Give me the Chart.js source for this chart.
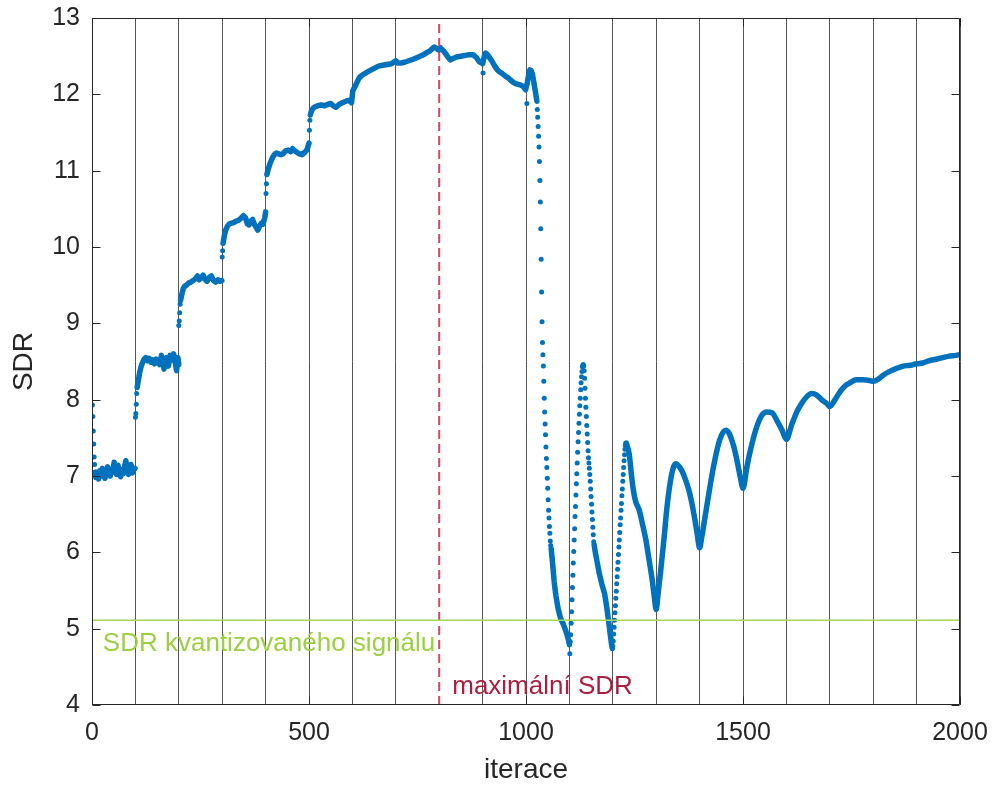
<!DOCTYPE html>
<html>
<head>
<meta charset="utf-8">
<title>SDR vs iterace</title>
<script src="https://cdn.jsdelivr.net/npm/chart.js@4.4.1/dist/chart.umd.min.js"></script>
<style>
  body { margin: 0; background: #fff; }
  canvas { display: block; }
</style>
</head>
<body>
<canvas id="chart" width="992" height="785"></canvas>
<script>
// SDR level of the quantized signal and the iteration with the best SDR
const sdrQuant = 5.11;
const bestIter = 800;

// dense runs
const run1Iter = [7,9,12,15,18,21,24,27,30,33,36,39,42,45,48,51,54,57,60,63,66,69,72,75,78,81,84,87,90,93,96,99];
const run1Sdr = [7.05,6.98,7.05,6.96,7.07,7.0,7.1,7.02,6.97,7.06,7.12,7.03,7.0,7.09,7.05,7.18,7.08,7.02,7.14,7.05,6.99,7.08,7.03,7.12,7.2,7.09,7.02,7.07,7.15,7.04,7.08,7.1];

const run2Iter = [104,107,110,113,116,120,124,128,132,136,140,144,148,152,156,160,163,166,169,172,176,180,184,188,192,195,198,200];
const run2Sdr = [8.16,8.26,8.36,8.43,8.48,8.53,8.55,8.51,8.54,8.49,8.52,8.47,8.53,8.50,8.46,8.58,8.49,8.40,8.50,8.55,8.44,8.58,8.52,8.60,8.48,8.38,8.55,8.46];

const run3Iter = [204,207,210,214,218,223,228,233,238,243,247,252,256,260,265,270,275,280,285,290,295,299];
const run3Sdr = [9.30,9.38,9.45,9.49,9.50,9.53,9.54,9.56,9.58,9.62,9.57,9.60,9.63,9.58,9.55,9.60,9.62,9.56,9.54,9.57,9.55,9.56];

const run4Iter = [302,305,308,312,316,320,326,332,338,344,349,354,358,362,366,370,374,378,382,386,390,394,398,400];
const run4Sdr = [10.05,10.15,10.22,10.27,10.30,10.31,10.32,10.34,10.35,10.38,10.41,10.38,10.30,10.29,10.34,10.36,10.30,10.26,10.22,10.27,10.31,10.30,10.38,10.46];

const run5Iter = [403,406,410,415,420,425,430,435,440,446,452,458,462,467,472,478,484,490,495,500];
const run5Sdr = [10.95,11.02,11.09,11.16,11.21,11.23,11.22,11.21,11.22,11.26,11.27,11.25,11.29,11.26,11.24,11.22,11.21,11.24,11.27,11.36];

const run6Iter = [503,506,510,515,520,528,536,544,550,556,562,570,577,585,592,598,601,605,610,615,622,631,640,650,660,670,680,690,700,705,712,720,730,740,748,756,764,772,779,784,789,794,799,803,808,814,820,826,832,840,850,860,870,878,886,892,898,900,904,907,911,916,922,928,934,940,946,952,958,964,970,976,982,988,994,999,1003,1006,1009,1012,1015,1018,1021,1025];
const run6Sdr = [11.73,11.79,11.82,11.84,11.85,11.86,11.85,11.87,11.88,11.85,11.83,11.87,11.89,11.91,11.92,11.89,12.05,12.09,12.15,12.21,12.25,12.28,12.31,12.34,12.37,12.38,12.39,12.40,12.44,12.41,12.41,12.42,12.44,12.46,12.48,12.50,12.52,12.55,12.57,12.60,12.62,12.60,12.58,12.61,12.58,12.54,12.49,12.45,12.47,12.49,12.50,12.51,12.52,12.52,12.48,12.43,12.41,12.40,12.50,12.54,12.52,12.48,12.43,12.37,12.32,12.29,12.27,12.24,12.22,12.19,12.16,12.14,12.13,12.12,12.10,12.06,12.15,12.25,12.32,12.31,12.26,12.16,12.06,11.91];

const run7Iter = [1058,1061,1065,1069,1074,1080,1085,1090,1095,1098,1100];
const run7Sdr = [6.05,5.87,5.61,5.43,5.26,5.13,5.07,5.00,4.91,4.85,4.79];

const run8Iter = [1157,1160,1165,1169,1175,1181,1185,1188,1191,1194,1197,1199];
const run8Sdr = [6.10,5.99,5.84,5.72,5.58,5.46,5.32,5.20,5.07,4.93,4.80,4.74];

const run9Iter = [1231,1234,1238,1243,1248,1253,1261,1268,1276,1283,1291,1296,1300,1304,1310,1318,1325,1333,1340,1346,1352,1360,1367,1375,1382,1390,1395,1400,1405,1413,1421,1432,1444,1455,1461,1467,1473,1480,1487,1494,1500,1509,1521,1532,1544,1555,1567,1578,1590,1600,1612,1624,1635,1647,1658,1670,1681,1693,1700,1712,1723,1735,1746,1761,1777,1792,1800,1812,1823,1838,1854,1869,1885,1900,1914,1929,1945,1960,1975,1991,2000];
const run9Sdr = [7.43,7.38,7.28,7.01,6.79,6.66,6.55,6.38,6.17,5.92,5.63,5.40,5.25,5.44,5.74,6.18,6.60,6.94,7.12,7.16,7.13,7.06,6.96,6.82,6.65,6.40,6.22,6.06,6.20,6.48,6.76,7.12,7.43,7.58,7.60,7.57,7.49,7.36,7.18,6.98,6.84,7.12,7.43,7.65,7.80,7.84,7.83,7.73,7.60,7.48,7.67,7.84,7.95,8.04,8.08,8.06,8.00,7.95,7.91,8.00,8.10,8.18,8.22,8.26,8.26,8.25,8.24,8.27,8.32,8.37,8.41,8.44,8.45,8.47,8.48,8.51,8.53,8.55,8.57,8.58,8.59];

// single iterations that stand apart (jumps, outliers)
const jumpIter = [1,2,3,4,5,6,100,101,102,103,200,201,202,203,300,301,401,402,501,502,901,1002,1101];
const jumpSdr = [7.93,7.78,7.59,7.42,7.25,7.15,7.77,7.82,7.94,8.08,8.97,9.03,9.14,9.25,9.87,9.95,10.70,10.83,11.53,11.66,12.28,11.88,4.67];

// the collapse after ~1025 iterations
const dropIter = [1026,1027,1028,1029,1030,1031,1032,1033,1034,1035,1036,1037,1038,1039,1040,1041,1042,1043,1044,1045,1046,1047,1048,1049,1050,1051,1052,1053,1054,1055,1056,1057];
const dropSdr = [11.80,11.70,11.58,11.45,11.31,11.12,10.87,10.59,10.24,9.84,9.41,9.02,8.75,8.59,8.44,8.24,8.02,7.84,7.68,7.54,7.38,7.23,7.11,6.97,6.84,6.69,6.55,6.45,6.34,6.25,6.15,6.09];

// first spike
const spike1Iter = [1102,1103,1104,1105,1106,1107,1108,1109,1110,1111,1112,1113,1114,1115,1116,1117,1118,1119,1120,1121,1122,1123,1124,1125,1126,1127,1128,1129,1130,1131,1132,1133,1134,1135,1136,1137,1138,1139,1140,1141,1142,1143,1144,1145,1146,1147,1148,1149,1150,1151,1152,1153,1154,1155,1156];
const spike1Sdr = [4.83,4.92,5.07,5.22,5.38,5.54,5.70,5.86,6.01,6.16,6.31,6.47,6.60,6.75,6.90,7.03,7.17,7.31,7.45,7.57,7.69,7.81,7.92,8.02,8.13,8.22,8.30,8.37,8.43,8.45,8.46,8.44,8.38,8.28,8.15,8.02,7.90,7.78,7.66,7.55,7.44,7.33,7.24,7.17,7.10,7.02,6.93,6.83,6.73,6.63,6.53,6.43,6.33,6.23,6.14];

// second spike, rising part
const spike2Iter = [1200,1201,1202,1203,1204,1205,1206,1207,1208,1209,1210,1211,1212,1213,1214,1215,1216,1217,1218,1219,1220,1221,1222,1223,1224,1225,1226,1227,1228,1229,1230];
const spike2Sdr = [4.77,4.84,4.93,5.02,5.11,5.21,5.30,5.40,5.49,5.59,5.68,5.78,5.87,5.97,6.07,6.16,6.26,6.36,6.45,6.55,6.64,6.74,6.83,6.93,7.02,7.11,7.20,7.28,7.35,7.40,7.43];

const xTicks = [0, 500, 1000, 1500, 2000];
const yTicks = [4, 5, 6, 7, 8, 9, 10, 11, 12, 13];

const quantLabel = 'SDR kvantizovaného signálu';
const bestLabel = 'maximální SDR';

const BLUE = '#0072BD';
const GREEN = '#9ccf42';
const RED = '#ad1d3d';
const AXIS = '#262626';
const FONT = '"Liberation Sans", Arial, Helvetica, sans-serif';

function pts(xs, ys) {
  return xs.map((x, i) => ({ x, y: ys[i] }));
}

// dense runs joined into one line, with gaps between the runs
const gap = { x: null, y: null };
const denseRuns = [
  [run1Iter, run1Sdr], [run2Iter, run2Sdr], [run3Iter, run3Sdr],
  [run4Iter, run4Sdr], [run5Iter, run5Sdr], [run6Iter, run6Sdr],
  [run7Iter, run7Sdr], [run8Iter, run8Sdr]
];
let densePoints = [];
denseRuns.forEach(r => { densePoints = densePoints.concat(pts(r[0], r[1]), [gap]); });

const sparsePoints = [].concat(
  pts(jumpIter, jumpSdr), pts(dropIter, dropSdr),
  pts(spike1Iter, spike1Sdr), pts(spike2Iter, spike2Sdr)
);

// box, inward ticks and the two notes
const frame = {
  id: 'frame',
  afterDatasetsDraw(chart) {
    const { ctx, chartArea: a, scales: { x, y } } = chart;
    ctx.save();
    ctx.strokeStyle = AXIS;
    ctx.lineWidth = 1;
    const L = Math.round(a.left) + 0.5, R = Math.round(a.right) - 0.5;
    const T = Math.round(a.top) + 0.5, B = Math.round(a.bottom) - 0.5;
    ctx.beginPath();
    ctx.rect(L, T, R - L, B - T);
    yTicks.forEach(v => {
      const p = Math.round(y.getPixelForValue(v)) + 0.5;
      ctx.moveTo(L, p); ctx.lineTo(L + 8, p);
      ctx.moveTo(R, p); ctx.lineTo(R - 8, p);
    });
    xTicks.forEach(v => {
      const p = Math.round(x.getPixelForValue(v)) + 0.5;
      ctx.moveTo(p, B); ctx.lineTo(p, B - 8);
      ctx.moveTo(p, T); ctx.lineTo(p, T + 8);
    });
    ctx.stroke();

    ctx.font = '26px ' + FONT;
    ctx.textBaseline = 'alphabetic';
    ctx.textAlign = 'left';
    ctx.fillStyle = GREEN;
    ctx.fillText(quantLabel, x.getPixelForValue(25), y.getPixelForValue(4.71));
    ctx.fillStyle = RED;
    ctx.fillText(bestLabel, x.getPixelForValue(830), y.getPixelForValue(4.14));
    ctx.restore();
  }
};

new Chart(document.getElementById('chart'), {
  type: 'scatter',
  data: {
    datasets: [
      {
        data: [{ x: 0, y: sdrQuant }, { x: 2000, y: sdrQuant }],
        showLine: true, borderColor: '#a6d653', borderWidth: 1.5,
        pointRadius: 0, order: 0
      },
      {
        data: [{ x: bestIter, y: 4 }, { x: bestIter, y: 13 }],
        showLine: true, borderColor: 'rgba(200,55,85,0.9)', borderWidth: 2,
        borderDash: [9, 5], pointRadius: 0, order: 0
      },
      {
        data: densePoints,
        showLine: true, spanGaps: false, borderColor: BLUE, borderWidth: 5.5,
        borderJoinStyle: 'round', borderCapStyle: 'round',
        pointRadius: 0, order: 1
      },
      {
        data: pts(run9Iter, run9Sdr),
        showLine: true, borderColor: BLUE, borderWidth: 5.5,
        borderJoinStyle: 'round', borderCapStyle: 'round',
        cubicInterpolationMode: 'monotone',
        pointRadius: 0, order: 1
      },
      {
        data: sparsePoints,
        showLine: false, backgroundColor: BLUE, borderWidth: 0,
        pointRadius: 2.5, order: 1
      }
    ]
  },
  options: {
    responsive: false,
    devicePixelRatio: 1,
    animation: false,
    events: [],
    layout: { padding: { top: 18, right: 32, left: 0, bottom: 0 } },
    plugins: { legend: { display: false }, tooltip: { enabled: false } },
    scales: {
      x: {
        type: 'linear', min: 0, max: 2000,
        afterFit: s => { s.height = 80; s.paddingLeft = 0; s.paddingRight = 0; },
        grid: {
          color: c => (c.tick && c.tick.value === bestIter ? 'rgba(0,0,0,0)' : '#555'),
          lineWidth: 1, drawTicks: false
        },
        border: { display: false },
        ticks: {
          stepSize: 100, autoSkip: false, maxRotation: 0, padding: 13,
          color: AXIS, font: { family: FONT, size: 25 },
          callback: v => (v % 500 === 0 ? String(v) : '')
        },
        title: {
          display: true, text: 'iterace', color: AXIS,
          font: { family: FONT, size: 28, lineHeight: 1 },
          padding: { top: 0, bottom: 1 }
        }
      },
      y: {
        type: 'linear', min: 4, max: 13,
        afterFit: s => { s.width = 92; s.paddingTop = 0; s.paddingBottom = 0; },
        grid: { display: false, drawTicks: false },
        border: { display: false },
        ticks: {
          stepSize: 1, padding: 12,
          color: AXIS, font: { family: FONT, size: 25 }
        },
        title: {
          display: true, text: 'SDR', color: AXIS,
          font: { family: FONT, size: 28, lineHeight: 1 },
          padding: { top: 10, bottom: 0 }
        }
      }
    }
  },
  plugins: [frame]
});
</script>
</body>
</html>
